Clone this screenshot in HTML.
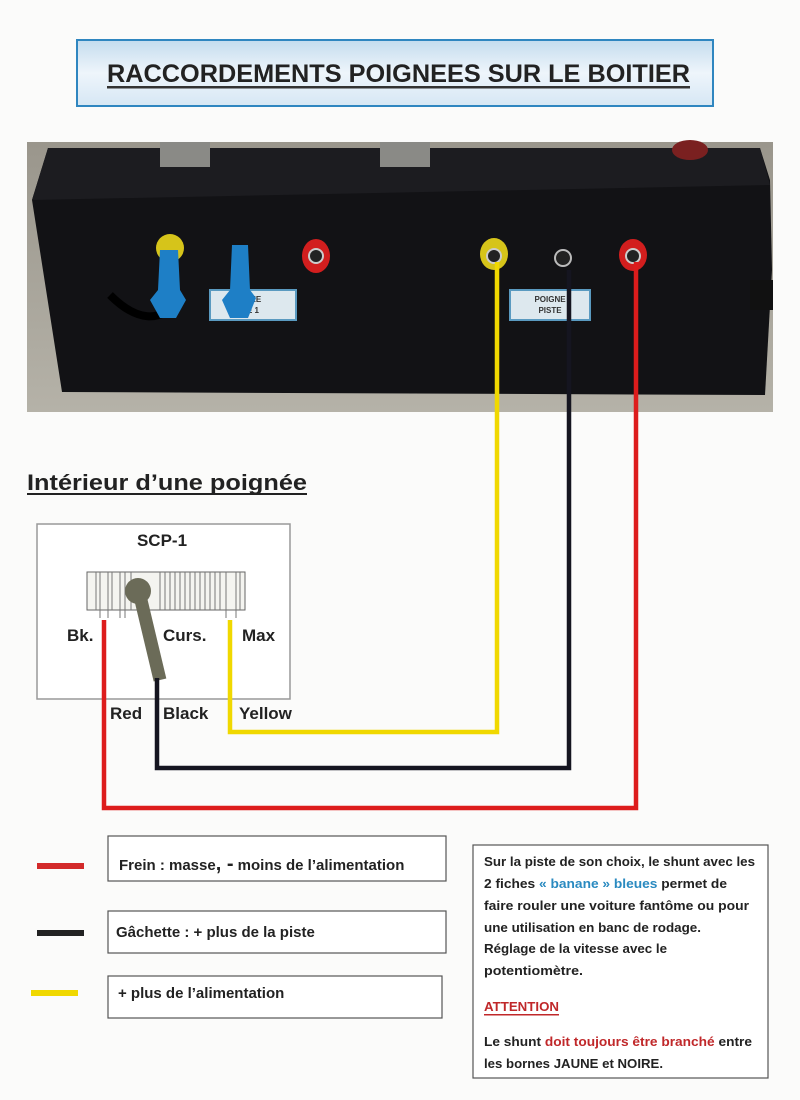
<!DOCTYPE html>
<html><head><meta charset="utf-8"><style>
html,body{margin:0;padding:0;background:#fbfbfa}
svg{display:block}
text{font-family:"Liberation Sans",sans-serif;font-weight:bold}
</style></head><body>
<svg width="800" height="1100" viewBox="0 0 800 1100" xmlns="http://www.w3.org/2000/svg">
<defs>
<linearGradient id="tg" x1="0" y1="0" x2="0" y2="1"><stop offset="0" stop-color="#c4dcee"/><stop offset="0.5" stop-color="#eef5fb"/><stop offset="1" stop-color="#d6e7f4"/></linearGradient>
<linearGradient id="ph" x1="0" y1="0" x2="0" y2="1"><stop offset="0" stop-color="#9a968c"/><stop offset="1" stop-color="#b5b2a8"/></linearGradient>
</defs>
<rect width="800" height="1100" fill="#fbfbfa"/>
<!-- title -->
<rect x="77" y="40" width="636" height="66" fill="url(#tg)" stroke="#2f86c0" stroke-width="2"/>
<text x="107" y="82" font-size="25" fill="#222" textLength="583" lengthAdjust="spacingAndGlyphs">RACCORDEMENTS POIGNEES SUR LE BOITIER</text>
<rect x="107" y="86" width="583" height="2.5" fill="#333"/>
<!-- photo -->
<rect x="27" y="142" width="746" height="270" fill="url(#ph)"/>
<path d="M48 148 L760 148 L770 180 L772 270 L765 395 L62 392 L32 200 Z" fill="#121215"/>
<path d="M32 200 L48 148 L760 148 L770 185 Z" fill="#1c1c20"/>
<rect x="160" y="142" width="50" height="25" fill="#8a8a86"/>
<rect x="380" y="142" width="50" height="25" fill="#8a8a86"/>
<ellipse cx="690" cy="150" rx="18" ry="10" fill="#7a2020"/>
<rect x="750" y="280" width="23" height="30" fill="#111"/>
<rect x="210" y="290" width="86" height="30" fill="#dde8ee" stroke="#5a9ac0" stroke-width="2"/>
<text x="253" y="302" font-size="8" fill="#333" text-anchor="middle">NEE</text>
<text x="253" y="313" font-size="8" fill="#333" text-anchor="middle">E 1</text>
<rect x="510" y="290" width="80" height="30" fill="#dde8ee" stroke="#5a9ac0" stroke-width="2"/>
<text x="550" y="302" font-size="8" fill="#333" text-anchor="middle">POIGNE</text>
<text x="550" y="313" font-size="8" fill="#333" text-anchor="middle">PISTE</text>
<path d="M110 295 Q150 335 180 300" stroke="#000" stroke-width="8" fill="none"/>
<ellipse cx="170" cy="248" rx="14" ry="14" fill="#d6c41a"/>
<path d="M160 250 L178 250 L180 290 L186 300 L176 318 L160 318 L150 300 L158 290 Z" fill="#1e7fc6"/>
<path d="M232 245 L248 245 L250 290 L256 298 L248 318 L230 318 L222 300 L230 290 Z" fill="#1e7fc6"/>
<ellipse cx="316" cy="256" rx="14" ry="17" fill="#d21e1e"/><circle cx="316" cy="256" r="7" fill="#222" stroke="#ccc" stroke-width="2"/>
<ellipse cx="494" cy="254" rx="14" ry="16" fill="#d6c41a"/><circle cx="494" cy="256" r="7" fill="#222" stroke="#ccc" stroke-width="2"/>
<circle cx="563" cy="258" r="8" fill="#222" stroke="#bbb" stroke-width="2"/>
<ellipse cx="633" cy="255" rx="14" ry="16" fill="#d21e1e"/><circle cx="633" cy="256" r="7" fill="#222" stroke="#ccc" stroke-width="2"/>
<!-- heading -->
<text x="27" y="490" font-size="22" fill="#222" textLength="280" lengthAdjust="spacingAndGlyphs">Intérieur d’une poignée</text>
<rect x="27" y="493" width="280" height="2" fill="#222"/>
<!-- SCP box -->
<rect x="37" y="524" width="253" height="175" fill="#fff" stroke="#999" stroke-width="1.5"/>
<text x="162" y="546" font-size="17" fill="#222" text-anchor="middle">SCP-1</text>
<rect x="87" y="572" width="158" height="38" fill="#f4f4f0" stroke="#666"/>
<g stroke="#777" stroke-width="1">
<path d="M96 572V610M100 572V618M108 572V618M112 572V610M120 572V618M125 572V618M131 572V610M160 572V610M165 572V610M170 572V610M175 572V610M180 572V610M185 572V610M190 572V610M195 572V610M200 572V610M205 572V610M210 572V610M215 572V610M220 572V610M226 572V618M236 572V618M240 572V610"/>
</g>
<path d="M140 596 L160 680" stroke="#6b6b58" stroke-width="13"/>
<circle cx="138" cy="591" r="13" fill="#6b6b58"/>
<text x="67" y="641" font-size="17" fill="#222">Bk.</text>
<text x="163" y="641" font-size="17" fill="#222">Curs.</text>
<text x="242" y="641" font-size="17" fill="#222">Max</text>
<text x="110" y="719" font-size="17" fill="#222">Red</text>
<text x="163" y="719" font-size="17" fill="#222">Black</text>
<text x="239" y="719" font-size="17" fill="#222">Yellow</text>
<!-- wires -->
<polyline points="497,262 497,732 230,732 230,620" fill="none" stroke="#f0d800" stroke-width="4.5"/>
<polyline points="569,270 569,768 157,768 157,678" fill="none" stroke="#151520" stroke-width="4.5"/>
<polyline points="636,262 636,808 104,808 104,620" fill="none" stroke="#dd1c1c" stroke-width="4.5"/>
<!-- legend -->
<rect x="37" y="863" width="47" height="6" fill="#d32a2a"/>
<rect x="108" y="836" width="338" height="45" fill="#fff" stroke="#555" stroke-width="1.2"/>
<text x="119" y="870" font-size="15" fill="#222">Frein : masse<tspan font-size="20">, -</tspan> moins de l’alimentation</text>
<rect x="37" y="930" width="47" height="6" fill="#222"/>
<rect x="108" y="911" width="338" height="42" fill="#fff" stroke="#555" stroke-width="1.2"/>
<text x="116" y="937" font-size="15" fill="#222">Gâchette :  + plus de la piste</text>
<rect x="31" y="990" width="47" height="6" fill="#f0d800"/>
<rect x="108" y="976" width="334" height="42" fill="#fff" stroke="#555" stroke-width="1.2"/>
<text x="118" y="998" font-size="15" fill="#222">+ plus de l’alimentation</text>
<!-- right box -->
<rect x="473" y="845" width="295" height="233" fill="#fff" stroke="#555" stroke-width="1.2"/>
<g font-size="13" fill="#222" lengthAdjust="spacingAndGlyphs">
<text x="484" y="866" textLength="271" lengthAdjust="spacingAndGlyphs">Sur la piste de son choix, le shunt avec les</text>
<text x="484" y="888" textLength="243" lengthAdjust="spacingAndGlyphs">2 fiches <tspan fill="#2a8ac0">« banane » bleues</tspan> permet de</text>
<text x="484" y="910" textLength="265" lengthAdjust="spacingAndGlyphs">faire rouler une voiture fantôme ou pour</text>
<text x="484" y="932" textLength="217" lengthAdjust="spacingAndGlyphs">une utilisation en banc de rodage.</text>
<text x="484" y="953" textLength="183" lengthAdjust="spacingAndGlyphs">Réglage de la vitesse avec le</text>
<text x="484" y="975" textLength="99" lengthAdjust="spacingAndGlyphs">potentiomètre.</text>
<text x="484" y="1011" fill="#c0282a" textLength="75" lengthAdjust="spacingAndGlyphs">ATTENTION</text>
<rect x="484" y="1014" width="75" height="1.5" fill="#c0282a"/>
<text x="484" y="1046" textLength="268" lengthAdjust="spacingAndGlyphs">Le shunt <tspan fill="#c0282a">doit toujours être branché</tspan> entre</text>
<text x="484" y="1068" textLength="179" lengthAdjust="spacingAndGlyphs">les bornes JAUNE et NOIRE.</text>
</g>
</svg>
</body></html>
